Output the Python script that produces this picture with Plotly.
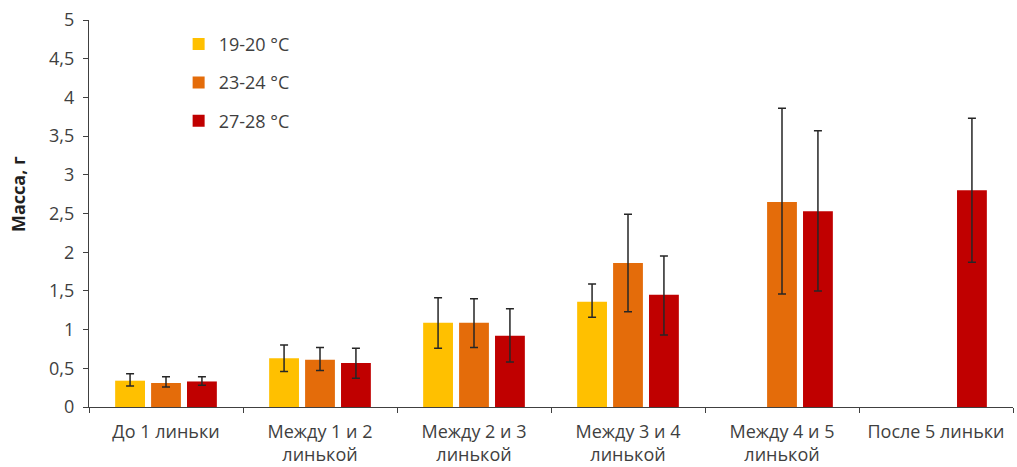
import plotly.graph_objects as go

# Stages between moults
categories = [
    "До 1 линьки",
    "Между 1 и 2<br>линькой",
    "Между 2 и 3<br>линькой",
    "Между 3 и 4<br>линькой",
    "Между 4 и 5<br>линькой",
    "После 5 линьки",
]

series_names = ["19-20 °C", "23-24 °C", "27-28 °C"]

# Mean mass, g (None = no data at this stage)
mass_19_20 = [0.34, 0.63, 1.09, 1.36, None, None]
mass_23_24 = [0.31, 0.61, 1.09, 1.86, 2.65, None]
mass_27_28 = [0.33, 0.57, 0.92, 1.45, 2.53, 2.80]

# Error bar extents above / below the mean
err_up_19_20 = [0.09, 0.17, 0.32, 0.23, None, None]
err_dn_19_20 = [0.07, 0.17, 0.33, 0.20, None, None]
err_up_23_24 = [0.08, 0.16, 0.31, 0.63, 1.21, None]
err_dn_23_24 = [0.05, 0.14, 0.32, 0.63, 1.19, None]
err_up_27_28 = [0.06, 0.19, 0.35, 0.50, 1.04, 0.93]
err_dn_27_28 = [0.05, 0.20, 0.34, 0.52, 1.03, 0.93]

colors = ["#FFC000", "#E46C0A", "#C00000"]

means = [mass_19_20, mass_23_24, mass_27_28]
ups = [err_up_19_20, err_up_23_24, err_up_27_28]
dns = [err_dn_19_20, err_dn_23_24, err_dn_27_28]

font_family = "Open Sans, Noto Sans, DejaVu Sans, sans-serif"
text_color = "#3f3f3f"

fig = go.Figure()
for name, y, up, dn, col in zip(series_names, means, ups, dns, colors):
    fig.add_trace(go.Bar(
        name=name,
        x=categories,
        y=y,
        marker=dict(color=col, line=dict(width=0)),
        legendgroup=name,
        error_y=dict(
            type="data",
            symmetric=False,
            array=up,
            arrayminus=dn,
            color="#262626",
            thickness=1.5,
            width=4,
        ),
    ))

# Vertical axis caption
fig.add_annotation(
    text="<b>Масса, г</b>",
    textangle=-90,
    xref="paper", yref="paper",
    x=-0.077, y=0.55,
    xanchor="center", yanchor="middle",
    showarrow=False,
    font=dict(size=18, color="#1f1f1f", family=font_family),
)

fig.update_layout(
    width=1017,
    height=467,
    margin=dict(l=89, r=4, t=20, b=60),
    paper_bgcolor="white",
    plot_bgcolor="white",
    barmode="group",
    bargap=0.3,
    bargroupgap=0.17,
    separators=", ",
    font=dict(family=font_family, size=18, color=text_color),
    showlegend=True,
    legend=dict(
        x=0.097,
        y=0.985,
        xanchor="left",
        yanchor="top",
        bgcolor="rgba(0,0,0,0)",
        tracegroupgap=12,
        font=dict(size=18, color=text_color),
        itemwidth=30,
    ),
    xaxis=dict(
        type="category",
        automargin=False,
        showline=True,
        linecolor="#404040",
        linewidth=1.2,
        ticks="outside",
        tickson="boundaries",
        ticklen=5,
        tickcolor="#404040",
        showgrid=False,
        tickfont=dict(size=18, color=text_color),
        ticklabelstandoff=8,
    ),
    yaxis=dict(
        range=[0, 5],
        dtick=0.5,
        automargin=False,
        showline=True,
        linecolor="#404040",
        linewidth=1.2,
        ticks="outside",
        ticklen=5,
        tickcolor="#404040",
        showgrid=False,
        zeroline=False,
        ticklabelstandoff=5,
        tickfont=dict(size=18, color=text_color),
    ),
)

fig.write_html("out.html")
